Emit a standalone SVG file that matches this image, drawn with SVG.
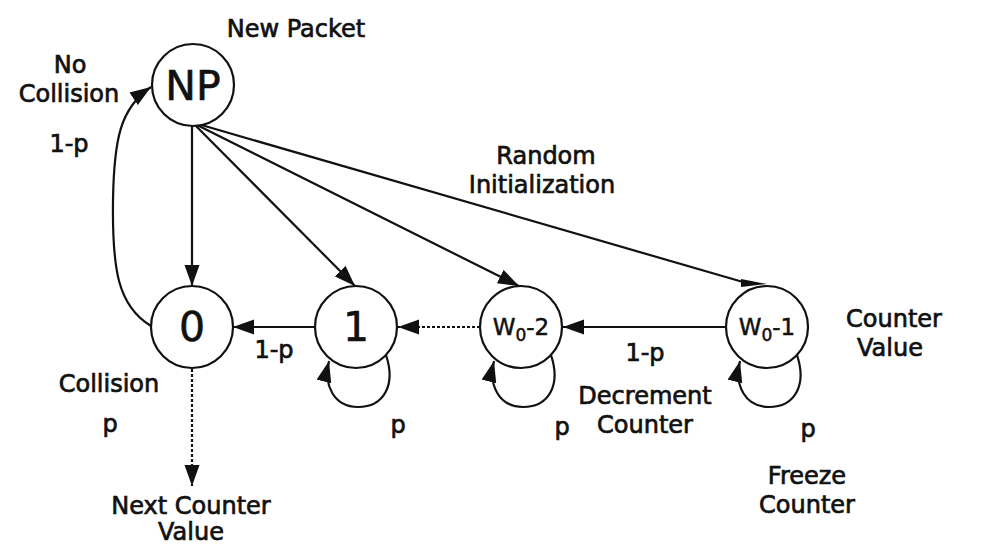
<svg xmlns="http://www.w3.org/2000/svg" width="985" height="548" viewBox="0 0 985 548">
<style>
  .node circle { fill: #fff; stroke: #111; stroke-width: 2.2; }
  .big { font-family: "DejaVu Sans", Verdana, sans-serif; font-size: 41px; fill: #111; text-anchor: middle; stroke: #111; stroke-width: 0.6; }
  .w { font-family: "DejaVu Sans", Verdana, sans-serif; font-size: 23px; fill: #111; text-anchor: middle; stroke: #111; stroke-width: 0.5; }
  .lbl { font-family: "DejaVu Sans", Verdana, sans-serif; font-size: 24px; fill: #111; text-anchor: middle; stroke: #111; stroke-width: 0.7; }
  .edge { fill: none; stroke: #111; stroke-width: 2.2; marker-end: url(#arrow); }
  .dot { stroke-dasharray: 3 2; }
</style>
<defs>
  <marker id="arrow" markerUnits="userSpaceOnUse" markerWidth="22" markerHeight="16" refX="21" refY="7.5" orient="auto">
    <path d="M0,0 L21,7.5 L0,15 z" fill="#111"/>
  </marker>
</defs>
<rect width="985" height="548" fill="#fff"/>

<g id="connectors">
  <path class="edge" d="M192,126 L192,286"/>
  <path class="edge" d="M196,126 L355,286"/>
  <path class="edge" d="M197,125 L519,286"/>
  <path fill="none" stroke="#111" stroke-width="2.2" d="M198,124 L743,282"/>
  <polygon points="741,279 767,284 741,287" fill="#111"/>
  <path class="edge" d="M315,327 L233,327"/>
  <path class="edge dot" d="M480,327 L398,327"/>
  <path class="edge" d="M725,327 L563,327"/>
  <path class="edge dot" d="M192,369 L192,486"/>
  <path class="edge" d="M151,326 C118,306 112,270 113,200 C114,140 120,108 151,87"/>
  <path class="edge" d="M386,355 C396,385 384,407 358,407 C334,407 323,385 329,361"/>
  <path class="edge" d="M551,355 C561,385 549,407 523,407 C499,407 488,385 494,361"/>
  <path class="edge" d="M797,355 C807,385 795,407 769,407 C745,407 734,385 740,361"/>
</g>

<g id="node-NP" class="node">
  <circle cx="193" cy="85" r="41"/>
  <text class="big" x="193" y="100">NP</text>
</g>
<g id="node-0" class="node">
  <circle cx="192" cy="327" r="41"/>
  <text class="big" x="192" y="341">0</text>
</g>
<g id="node-1" class="node">
  <circle cx="356" cy="327" r="41"/>
  <text class="big" x="356" y="341">1</text>
</g>
<g id="node-W0-2" class="node">
  <circle cx="521" cy="327" r="41"/>
  <text class="w" x="521" y="335">W<tspan font-size="17" dy="6">0</tspan><tspan dy="-6">-2</tspan></text>
</g>
<g id="node-W0-1" class="node">
  <circle cx="767" cy="327" r="41"/>
  <text class="w" x="767" y="335">W<tspan font-size="17" dy="6">0</tspan><tspan dy="-6">-1</tspan></text>
</g>

<g id="labels">
  <text class="lbl" x="296" y="37">New Packet</text>
  <text class="lbl" x="70" y="73">No</text>
  <text class="lbl" x="69" y="102">Collision</text>
  <text class="lbl" x="69" y="152">1-p</text>
  <text class="lbl" x="546" y="164">Random</text>
  <text class="lbl" x="542" y="193">Initialization</text>
  <text class="lbl" x="274" y="358">1-p</text>
  <text class="lbl" x="645" y="361">1-p</text>
  <text class="lbl" x="109" y="392">Collision</text>
  <text class="lbl" x="110" y="432">p</text>
  <text class="lbl" x="398" y="433">p</text>
  <text class="lbl" x="562" y="435">p</text>
  <text class="lbl" x="808" y="437">p</text>
  <text class="lbl" x="645" y="404">Decrement</text>
  <text class="lbl" x="645" y="433">Counter</text>
  <text class="lbl" x="807" y="484">Freeze</text>
  <text class="lbl" x="807" y="513">Counter</text>
  <text class="lbl" x="894" y="327">Counter</text>
  <text class="lbl" x="890" y="356">Value</text>
  <text class="lbl" x="191" y="514">Next Counter</text>
  <text class="lbl" x="191" y="540">Value</text>
</g>
</svg>
